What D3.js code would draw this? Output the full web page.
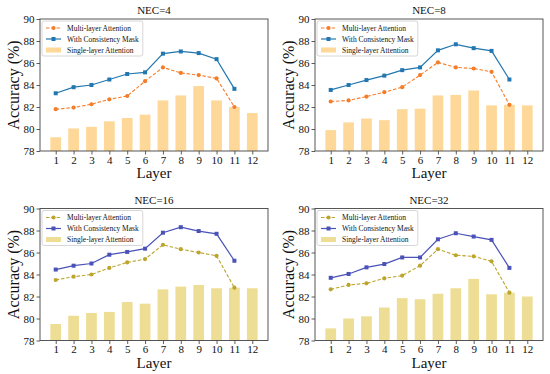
<!DOCTYPE html>
<html>
<head>
<meta charset="utf-8">
<script src="https://cdn.jsdelivr.net/npm/d3@7"></script>
<style>
  body { margin: 0; background: #fff; }
  svg, svg text { font-family: "Liberation Serif", "Times New Roman", Times, "DejaVu Serif", serif; }
  svg { display: block; }
</style>
</head>
<body>
<div id="chart"></div>
<script>
// categories and tick labels
const layers = [1, 2, 3, 4, 5, 6, 7, 8, 9, 10, 11, 12];
const titles = ["NEC=4", "NEC=8", "NEC=16", "NEC=32"];
const seriesNames = ["Multi-layer Attention", "With Consistency Mask", "Single-layer Attention"];
const yTicks = [78, 80, 82, 84, 86, 88, 90];

// NEC=4
const multi4  = [81.8, 81.95, 82.25, 82.7, 83.0, 84.35, 85.6, 85.1, 84.9, 84.6, 82.0];
const mask4   = [83.25, 83.8, 84.0, 84.5, 85.0, 85.15, 86.85, 87.05, 86.9, 86.35, 83.65];
const single4 = [79.25, 80.05, 80.2, 80.7, 81.0, 81.3, 82.6, 83.05, 83.9, 82.6, 82.0, 81.45];
// NEC=8
const multi8  = [82.5, 82.6, 82.95, 83.35, 83.8, 84.9, 86.05, 85.6, 85.5, 85.2, 82.2];
const mask8   = [83.55, 84.0, 84.45, 84.85, 85.35, 85.6, 87.15, 87.7, 87.35, 87.1, 84.5];
const single8 = [79.9, 80.6, 80.95, 80.8, 81.8, 81.85, 83.05, 83.1, 83.5, 82.15, 82.2, 82.15];
// NEC=16
const multi16  = [83.5, 83.8, 84.0, 84.6, 85.1, 85.4, 86.7, 86.3, 86.0, 85.7, 82.8];
const mask16   = [84.45, 84.8, 85.0, 85.8, 86.05, 86.35, 87.8, 88.3, 87.95, 87.7, 85.25];
const single16 = [79.5, 80.25, 80.5, 80.6, 81.5, 81.35, 82.65, 82.9, 83.05, 82.75, 82.8, 82.75];
// NEC=32
const multi32  = [82.65, 83.05, 83.2, 83.65, 83.9, 84.8, 86.3, 85.75, 85.65, 85.2, 82.35];
const mask32   = [83.7, 84.05, 84.65, 84.95, 85.55, 85.55, 87.2, 87.75, 87.45, 87.15, 84.6];
const single32 = [79.1, 80.0, 80.2, 81.0, 81.85, 81.75, 82.25, 82.75, 83.6, 82.2, 82.35, 82.0];

const warm = { multi: "#f57d2a", mask: "#2277b0", bar: "#fed898" };
const cool = { multi: "#bba52c", mask: "#4a52b8", bar: "#eedd94" };

const panels = [
  { title: titles[0], multi: multi4,  mask: mask4,  single: single4,  col: warm },
  { title: titles[1], multi: multi8,  mask: mask8,  single: single8,  col: warm },
  { title: titles[2], multi: multi16, mask: mask16, single: single16, col: cool },
  { title: titles[3], multi: multi32, mask: mask32, single: single32, col: cool }
];

const SERIF = "Liberation Serif, Times New Roman, Times, DejaVu Serif, serif";
const width = 550, height = 374;
const pw = 228, ph = 132;
const offX = [40, 315], offY = [19, 208.5];

const svg = d3.select("#chart").append("svg")
    .attr("width", width)
    .attr("height", height)
    .attr("font-family", SERIF);

const x = d3.scaleLinear().domain([0.12, 12.88]).range([0, pw]);
const y = d3.scaleLinear().domain([78, 90]).range([ph, 0]);

panels.forEach(function (p, i) {
    const g = svg.append("g")
        .attr("transform", `translate(${offX[i % 2]},${offY[Math.floor(i / 2)]})`);

    // bars
    g.append("g").selectAll("rect")
        .data(p.single)
        .join("rect")
        .attr("x", (d, j) => x(layers[j] - 0.3))
        .attr("width", x(0.6) - x(0))
        .attr("y", d => y(d))
        .attr("height", d => y(78) - y(d))
        .attr("fill", p.col.bar);

    const line = d3.line().x((d, j) => x(layers[j])).y(d => y(d));

    // multi-layer attention (dashed, circles)
    g.append("path")
        .datum(p.multi)
        .attr("d", line)
        .attr("fill", "none")
        .attr("stroke", p.col.multi)
        .attr("stroke-width", 1.1)
        .attr("stroke-dasharray", "3.5,1.8");
    g.append("g").selectAll("circle")
        .data(p.multi)
        .join("circle")
        .attr("cx", (d, j) => x(layers[j]))
        .attr("cy", d => y(d))
        .attr("r", 2.1)
        .attr("fill", p.col.multi);

    // with consistency mask (solid, squares)
    g.append("path")
        .datum(p.mask)
        .attr("d", line)
        .attr("fill", "none")
        .attr("stroke", p.col.mask)
        .attr("stroke-width", 1.2);
    g.append("g").selectAll("rect")
        .data(p.mask)
        .join("rect")
        .attr("x", (d, j) => x(layers[j]) - 2)
        .attr("y", d => y(d) - 2)
        .attr("width", 4)
        .attr("height", 4)
        .attr("fill", p.col.mask);

    // axes
    const yAxis = g.append("g")
        .call(d3.axisLeft(y).tickValues(yTicks).tickSize(3.5).tickPadding(2));
    const xAxis = g.append("g")
        .attr("transform", `translate(0,${ph})`)
        .call(d3.axisBottom(x).tickValues(layers).tickSize(3.5).tickPadding(1.5));
    [xAxis, yAxis].forEach(a => {
        a.attr("font-family", SERIF).attr("font-size", 11);
        a.select(".domain").remove();
        a.selectAll("line").attr("stroke", "#333").attr("stroke-width", 0.8);
        a.selectAll("text").attr("fill", "#111");
    });

    g.append("rect")
        .attr("width", pw).attr("height", ph)
        .attr("fill", "none").attr("stroke", "#444").attr("stroke-width", 0.9);

    // titles
    g.append("text")
        .attr("x", pw / 2).attr("y", -5)
        .attr("text-anchor", "middle")
        .attr("font-size", "11px")
        .attr("fill", "#111")
        .text(p.title);

    g.append("text")
        .attr("x", pw / 2).attr("y", ph + 27)
        .attr("text-anchor", "middle")
        .attr("font-size", "15px")
        .attr("fill", "#111")
        .text("Layer");

    g.append("text")
        .attr("transform", "rotate(-90)")
        .attr("x", -ph / 2).attr("y", -21)
        .attr("text-anchor", "middle")
        .attr("font-size", "16px")
        .attr("fill", "#111")
        .text("Accuracy (%)");

    // legend
    const lg = g.append("g").attr("transform", "translate(2,2)");
    const box = lg.append("rect")
        .attr("rx", 2).attr("ry", 2)
        .attr("fill", "#fff").attr("fill-opacity", 0.85)
        .attr("stroke", "#ccc").attr("stroke-width", 0.8);
    const rows = [7, 18, 29];
    let maxW = 0;
    seriesNames.forEach(function (name, k) {
        const ry = rows[k];
        if (k === 0) {
            lg.append("line").attr("x1", 4).attr("x2", 19).attr("y1", ry).attr("y2", ry)
                .attr("stroke", p.col.multi).attr("stroke-width", 1.1).attr("stroke-dasharray", "3.5,1.8");
            lg.append("circle").attr("cx", 11.5).attr("cy", ry).attr("r", 2.1).attr("fill", p.col.multi);
        } else if (k === 1) {
            lg.append("line").attr("x1", 4).attr("x2", 19).attr("y1", ry).attr("y2", ry)
                .attr("stroke", p.col.mask).attr("stroke-width", 1.2);
            lg.append("rect").attr("x", 9.5).attr("y", ry - 2).attr("width", 4).attr("height", 4).attr("fill", p.col.mask);
        } else {
            lg.append("rect").attr("x", 4).attr("y", ry - 2.5).attr("width", 15).attr("height", 5).attr("fill", p.col.bar);
        }
        const t = lg.append("text")
            .attr("x", 25).attr("y", ry + 2.6)
            .attr("font-size", "7.5px")
            .attr("fill", "#111")
            .text(name);
        maxW = Math.max(maxW, t.node().getComputedTextLength());
    });
    box.attr("x", 0).attr("y", 0).attr("width", 25 + maxW + 4).attr("height", 35);
});
</script>
</body>
</html>
